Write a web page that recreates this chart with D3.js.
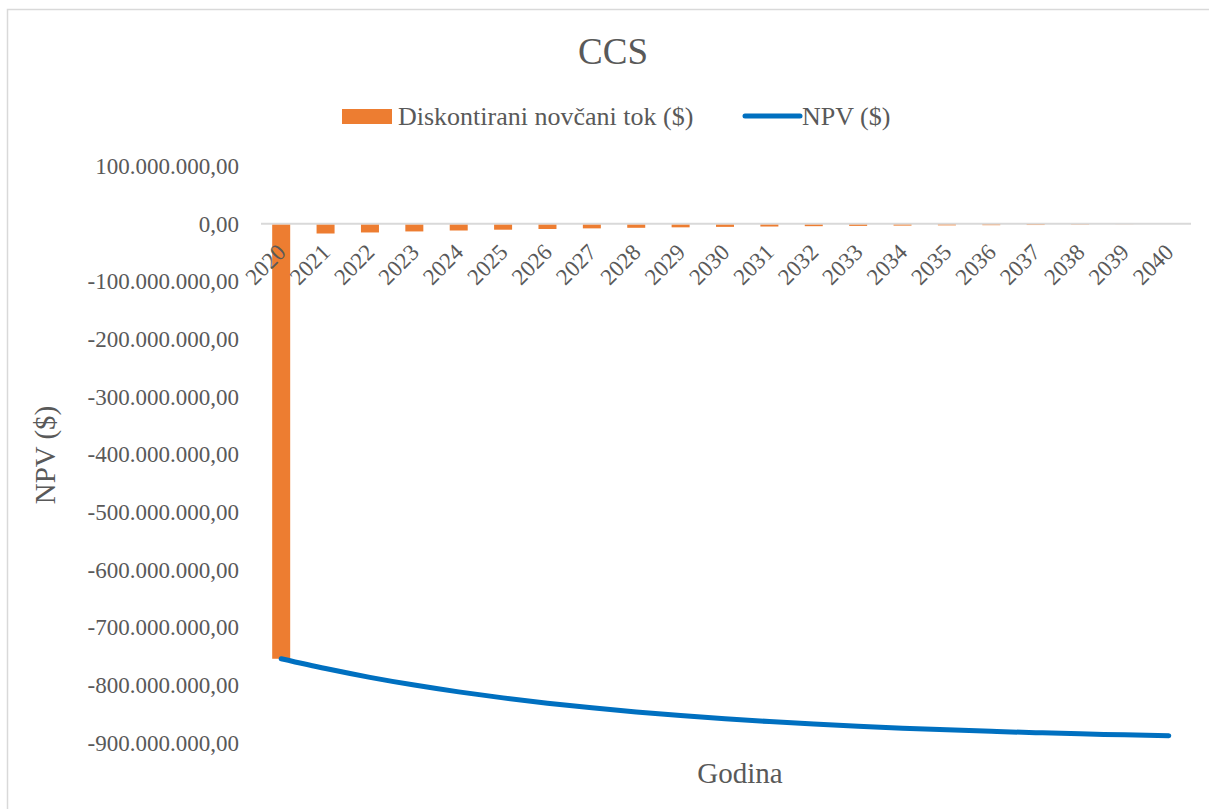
<!DOCTYPE html>
<html>
<head>
<meta charset="utf-8">
<script src="https://cdn.jsdelivr.net/npm/d3@7"></script>
<style>
  body { margin: 0; background: #fff; }
  text { font-family: "Liberation Serif", "Times New Roman", serif; fill: #595959; }
</style>
</head>
<body>
<div id="chart"></div>
<script>
// godine
const years = ["2020","2021","2022","2023","2024","2025","2026","2027","2028","2029","2030",
               "2031","2032","2033","2034","2035","2036","2037","2038","2039","2040"];

// diskontirani novcani tok ($)
const cashflow = [-754000000, -17000000, -15200000, -13400000, -11800000, -10400000, -9200000,
                  -8100000, -7100000, -6300000, -5500000, -4900000, -4300000, -3800000,
                  -3300000, -2900000, -2600000, -2300000, -2000000, -1800000, -1600000];

// NPV ($)
const npv = [-754000000, -771000000, -786200000, -799600000, -811400000, -821800000, -831000000,
             -839100000, -846200000, -852500000, -858000000, -862900000, -867200000, -871000000,
             -874300000, -877200000, -879800000, -882100000, -884100000, -885900000, -887500000];

const yTicks = [100000000, 0, -100000000, -200000000, -300000000, -400000000,
                -500000000, -600000000, -700000000, -800000000, -900000000];

const W = 1209, H = 809;
const plot = { left: 259, right: 1191, top: 166, bottom: 743 };

const svg = d3.select("#chart").append("svg")
  .attr("width", W).attr("height", H);

// okvir grafikona
svg.append("rect")
  .attr("x", 7.5).attr("y", 9.5)
  .attr("width", W).attr("height", H)
  .attr("fill", "#fff")
  .attr("stroke", "#d9d9d9").attr("stroke-width", 1.5);

const step = (plot.right - plot.left) / years.length;
const xc = d => plot.left + step * (years.indexOf(d) + 0.5);

const y = d3.scaleLinear()
  .domain([-900000000, 100000000])
  .range([plot.bottom, plot.top]);

const hr = d3.formatLocale({ decimal: ",", thousands: ".", grouping: [3], currency: ["", "$"], minus: "-" });
const fmt = hr.format(",.2f");

// y os
const yAxis = svg.append("g")
  .attr("transform", `translate(${plot.left},0)`)
  .call(d3.axisLeft(y).tickValues(yTicks).tickSize(0).tickPadding(20).tickFormat(fmt));
yAxis.select(".domain").remove();
yAxis.selectAll("text")
  .style("font-family", "Liberation Serif")
  .style("font-size", "23px")
  .attr("fill", "#595959");

// nulta linija
svg.append("line")
  .attr("x1", plot.left + 2).attr("x2", plot.right)
  .attr("y1", y(0)).attr("y2", y(0))
  .attr("stroke", "#d9d9d9").attr("stroke-width", 2);

// stupci
const bw = 18;
svg.selectAll(".bar")
  .data(years)
  .enter().append("rect")
    .attr("class", "bar")
    .attr("x", d => xc(d) - bw / 2)
    .attr("y", y(0) + 1)
    .attr("width", bw)
    .attr("height", (d, i) => Math.max(0, y(cashflow[i]) - y(0) - 1))
    .attr("fill", "#ED7D31");

// oznake godina
svg.selectAll(".xlab")
  .data(years)
  .enter().append("text")
    .attr("class", "xlab")
    .attr("transform", d => `translate(${xc(d) + 6},${y(0) + 30}) rotate(-45)`)
    .attr("text-anchor", "end")
    .style("font-size", "23px")
    .text(d => d);

// NPV linija
const line = d3.line()
  .curve(d3.curveMonotoneX)
  .x(d => xc(d.year))
  .y(d => y(d.v));

svg.append("path")
  .datum(years.map((yr, i) => ({ year: yr, v: npv[i] })))
  .attr("fill", "none")
  .attr("stroke", "#0070C0")
  .attr("stroke-width", 5)
  .attr("stroke-linecap", "round")
  .attr("d", line);

// naslov
svg.append("text")
  .attr("x", 613).attr("y", 64)
  .attr("text-anchor", "middle")
  .style("font-size", "37px")
  .text("CCS");

// legenda
svg.append("rect")
  .attr("x", 342).attr("y", 109).attr("width", 50).attr("height", 15)
  .attr("fill", "#ED7D31");
svg.append("text")
  .attr("x", 398).attr("y", 125)
  .style("font-size", "26px")
  .text("Diskontirani novčani tok ($)");
svg.append("line")
  .attr("x1", 745).attr("x2", 800).attr("y1", 116).attr("y2", 116)
  .attr("stroke", "#0070C0").attr("stroke-width", 5).attr("stroke-linecap", "round");
svg.append("text")
  .attr("x", 802).attr("y", 125)
  .style("font-size", "26px")
  .text("NPV ($)");

// nazivi osi
svg.append("text")
  .attr("transform", "translate(55,455) rotate(-90)")
  .attr("text-anchor", "middle")
  .style("font-size", "29px")
  .text("NPV ($)");
svg.append("text")
  .attr("x", 740).attr("y", 783)
  .attr("text-anchor", "middle")
  .style("font-size", "29px")
  .text("Godina");
</script>
</body>
</html>
